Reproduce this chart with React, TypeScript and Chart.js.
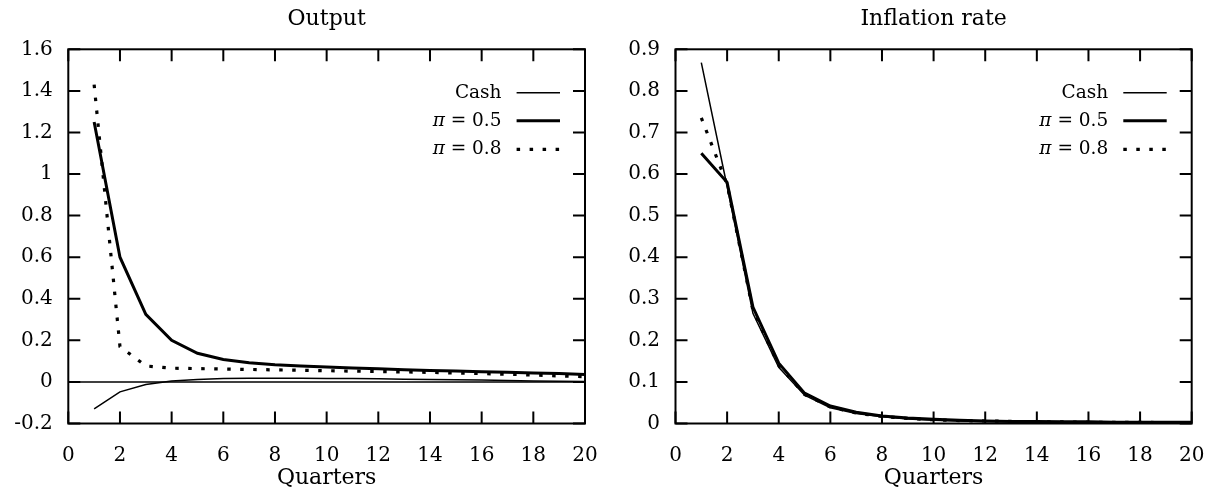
import React, { useEffect, useRef } from "react";
import { Chart, registerables } from "chart.js";

Chart.register(...registerables);

// ---------------- data ----------------
const quarters = [1, 2, 3, 4, 5, 6, 7, 8, 9, 10, 11, 12, 13, 14, 15, 16, 17, 18, 19, 20];
const xTickLabels = ["0", "2", "4", "6", "8", "10", "12", "14", "16", "18", "20"];
const outputYTickLabels = ["-0.2", "0", "0.2", "0.4", "0.6", "0.8", "1", "1.2", "1.4", "1.6"];
const inflationYTickLabels = ["0", "0.1", "0.2", "0.3", "0.4", "0.5", "0.6", "0.7", "0.8", "0.9"];
const seriesLabels = ["Cash", "π = 0.5", "π = 0.8"];
const panelTitles = ["Output", "Inflation rate"];
const xAxisTitle = "Quarters";

const outputCash = [-0.13, -0.048, -0.012, 0.005, 0.012, 0.016, 0.018, 0.018, 0.018, 0.017, 0.016, 0.015, 0.013, 0.012, 0.01, 0.009, 0.007, 0.005, 0.003, 0.002];
const outputPi05 = [1.25, 0.6, 0.325, 0.2, 0.138, 0.108, 0.092, 0.083, 0.077, 0.072, 0.067, 0.063, 0.059, 0.055, 0.052, 0.049, 0.046, 0.043, 0.04, 0.036];
const outputPi08 = [1.43, 0.17, 0.077, 0.066, 0.064, 0.062, 0.06, 0.058, 0.056, 0.054, 0.052, 0.05, 0.048, 0.046, 0.043, 0.04, 0.037, 0.033, 0.029, 0.025];

const inflationCash = [0.868, 0.57, 0.265, 0.135, 0.068, 0.038, 0.024, 0.016, 0.011, 0.008, 0.006, 0.005, 0.004, 0.004, 0.003, 0.003, 0.002, 0.002, 0.002, 0.002];
const inflationPi05 = [0.65, 0.58, 0.28, 0.145, 0.073, 0.042, 0.027, 0.018, 0.013, 0.01, 0.008, 0.006, 0.005, 0.005, 0.004, 0.004, 0.003, 0.003, 0.003, 0.003];
const inflationPi08 = [0.735, 0.575, 0.272, 0.14, 0.07, 0.04, 0.025, 0.017, 0.012, 0.009, 0.007, 0.006, 0.005, 0.004, 0.004, 0.003, 0.003, 0.003, 0.002, 0.002];

// ---------------- styling ----------------
const FONT = "'DejaVu Serif'";

const framePlugin = {
  id: "frame",
  beforeDatasetsDraw(chart: any, _args: any, opts: any) {
    const { ctx, chartArea: a, scales } = chart;
    ctx.save();
    ctx.strokeStyle = "#000";
    ctx.setLineDash([]);
    if (opts && opts.zeroLine) {
      const y0 = scales.y.getPixelForValue(0);
      ctx.lineWidth = 1.5;
      ctx.beginPath();
      ctx.moveTo(a.left, y0);
      ctx.lineTo(a.right, y0);
      ctx.stroke();
    }
    ctx.lineWidth = 2;
    ctx.strokeRect(a.left, a.top, a.right - a.left, a.bottom - a.top);
    const tl = 12;
    ctx.beginPath();
    scales.x.ticks.forEach((t: any) => {
      const x = scales.x.getPixelForValue(t.value);
      ctx.moveTo(x, a.bottom);
      ctx.lineTo(x, a.bottom - tl);
      ctx.moveTo(x, a.top);
      ctx.lineTo(x, a.top + tl);
    });
    scales.y.ticks.forEach((t: any) => {
      const y = scales.y.getPixelForValue(t.value);
      ctx.moveTo(a.left, y);
      ctx.lineTo(a.left + tl, y);
      ctx.moveTo(a.right, y);
      ctx.lineTo(a.right - tl, y);
    });
    ctx.stroke();
    ctx.restore();
  },
};

const legendPlugin = {
  id: "seriesLegend",
  afterDatasetsDraw(chart: any) {
    const { ctx, chartArea: a } = chart;
    const rows = [43.4, 71.4, 100];
    chart.data.datasets.forEach((ds: any, i: number) => {
      const y = a.top + rows[i];
      const textRight = a.right - 83.5;
      ctx.save();
      ctx.fillStyle = "#000";
      ctx.textBaseline = "middle";
      ctx.textAlign = "right";
      const label: string = ds.label;
      const normalFont = `18.5px ${FONT}`;
      if (label.startsWith("π")) {
        const rest = label.slice(1);
        ctx.font = normalFont;
        ctx.fillText(rest, textRight, y);
        const w = ctx.measureText(rest).width;
        ctx.font = `italic 18.5px ${FONT}`;
        ctx.fillText("π", textRight - w, y);
      } else {
        ctx.font = normalFont;
        ctx.fillText(label, textRight, y);
      }
      ctx.strokeStyle = ds.borderColor;
      ctx.lineWidth = ds.borderWidth;
      ctx.setLineDash(ds.borderDash || []);
      ctx.lineCap = "butt";
      ctx.beginPath();
      ctx.moveTo(a.right - 68.4, y);
      ctx.lineTo(a.right - 25, y);
      ctx.stroke();
      ctx.restore();
    });
  },
};

function buildDatasets(cash: number[], pi05: number[], pi08: number[]) {
  const pts = (vals: number[]) => quarters.map((q, i) => ({ x: q, y: vals[i] }));
  return [
    { label: seriesLabels[0], data: pts(cash), borderColor: "#000", borderWidth: 1.5, pointRadius: 0, tension: 0, fill: false },
    { label: seriesLabels[1], data: pts(pi05), borderColor: "#000", borderWidth: 3, pointRadius: 0, tension: 0, fill: false },
    { label: seriesLabels[2], data: pts(pi08), borderColor: "#000", borderWidth: 3.2, borderDash: [3.5, 9.5], borderCapStyle: "butt", pointRadius: 0, tension: 0, fill: false },
  ];
}

function makeConfig(
  title: string,
  yMin: number,
  yMax: number,
  yStep: number,
  yLabels: string[],
  datasets: any[],
  zeroLine: boolean,
  padRight: number,
  yWidth: number
): any {
  return {
    type: "line",
    data: { datasets },
    plugins: [framePlugin, legendPlugin],
    options: {
      responsive: false,
      animation: false,
      devicePixelRatio: 1,
      layout: { padding: { left: 0, right: padRight, top: 0, bottom: 0 } },
      plugins: {
        legend: { display: false },
        tooltip: { enabled: false },
        frame: { zeroLine },
        title: {
          display: true,
          text: title,
          color: "#000",
          fullSize: false,
          font: { family: FONT, size: 22, weight: "normal" },
          padding: { top: 6, bottom: 16.9 },
        },
      },
      scales: {
        x: {
          type: "linear",
          min: 0,
          max: 20,
          grid: { display: false, drawTicks: false },
          border: { display: false },
          ticks: {
            stepSize: 2,
            color: "#000",
            padding: 20.5,
            maxRotation: 0,
            font: { family: FONT, size: 20 },
            callback: (_v: any, i: number) => xTickLabels[i],
          },
          title: {
            display: true,
            text: xAxisTitle,
            color: "#000",
            font: { family: FONT, size: 22 },
            padding: { top: 0, bottom: 0.5 },
          },
          afterFit: (s: any) => {
            s.height = 68.5;
            s.paddingLeft = 0;
            s.paddingRight = 0;
          },
        },
        y: {
          type: "linear",
          min: yMin,
          max: yMax,
          grid: { display: false, drawTicks: false },
          border: { display: false },
          ticks: {
            stepSize: yStep,
            color: "#000",
            padding: 15.5,
            font: { family: FONT, size: 20 },
            callback: (_v: any, i: number) => yLabels[i],
          },
          afterFit: (s: any) => {
            s.width = yWidth;
            s.paddingTop = 0;
            s.paddingBottom = 0;
          },
        },
      },
    },
  };
}

export default function App() {
  const leftRef = useRef<HTMLCanvasElement | null>(null);
  const rightRef = useRef<HTMLCanvasElement | null>(null);

  useEffect(() => {
    const left = new Chart(
      leftRef.current as HTMLCanvasElement,
      makeConfig(panelTitles[0], -0.2, 1.6, 0.2, outputYTickLabels, buildDatasets(outputCash, outputPi05, outputPi08), true, 23, 68.3)
    );
    const right = new Chart(
      rightRef.current as HTMLCanvasElement,
      makeConfig(panelTitles[1], 0, 0.9, 0.1, inflationYTickLabels, buildDatasets(inflationCash, inflationPi05, inflationPi08), false, 24.3, 67.5)
    );
    return () => {
      left.destroy();
      right.destroy();
    };
  }, []);

  return (
    <div style={{ position: "fixed", left: 0, top: 0, width: 1216, height: 492, background: "#fff" }}>
      <canvas ref={leftRef} width={608} height={492} style={{ position: "absolute", left: 0, top: 0, width: 608, height: 492 }} />
      <canvas ref={rightRef} width={608} height={492} style={{ position: "absolute", left: 608, top: 0, width: 608, height: 492 }} />
    </div>
  );
}
